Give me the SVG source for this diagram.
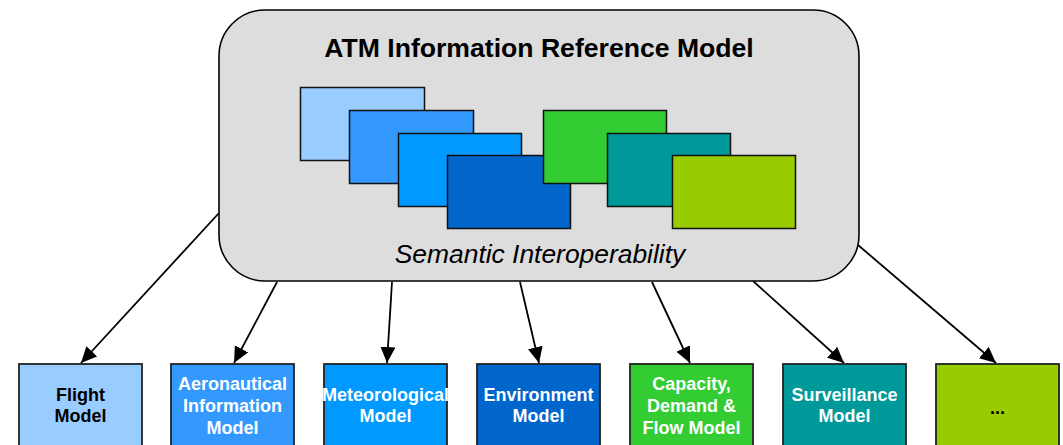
<svg xmlns="http://www.w3.org/2000/svg" width="1063" height="445" viewBox="0 0 1063 445">
<defs>
<style>
.main{fill:#DDDDDD;stroke:#000;stroke-width:1.6}
.card{stroke:#111;stroke-width:1.5}
.box{stroke:#222;stroke-width:1.8}
.lbl{font-family:"Liberation Sans",Arial,sans-serif;font-weight:bold;font-size:18px;text-anchor:middle;fill:#fff}
.dark{fill:#000}
.conn{stroke:#000;stroke-width:1.8;fill:none;marker-end:url(#ah)}
</style>
<marker id="ah" markerUnits="userSpaceOnUse" markerWidth="17" markerHeight="16" refX="16" refY="7.5" orient="auto">
<path d="M0,0 L16,7.5 L0,15 z" fill="#000"/>
</marker>
</defs>
<rect width="1063" height="445" fill="#fff"/>
<g id="connectors">
<line class="conn" x1="219" y1="213" x2="81" y2="363"/>
<line class="conn" x1="277" y1="282" x2="234" y2="363"/>
<line class="conn" x1="392" y1="282" x2="387" y2="363"/>
<line class="conn" x1="520" y1="282" x2="539" y2="363"/>
<line class="conn" x1="652" y1="282" x2="690" y2="363"/>
<line class="conn" x1="753" y1="281" x2="844" y2="363"/>
<line class="conn" x1="858" y1="245" x2="996" y2="363"/>
</g>
<g id="atm-model">
<rect class="main" x="219" y="10" width="640" height="271" rx="46" ry="46"/>
<text x="539" y="57" font-family="'Liberation Sans',Arial,sans-serif" font-weight="bold" font-size="26.6" text-anchor="middle" fill="#000">ATM Information Reference Model</text>
<rect class="card" x="300.5" y="87.5" width="124" height="73" fill="#99CCFF"/>
<rect class="card" x="349.5" y="110.5" width="124" height="73" fill="#3399FF"/>
<rect class="card" x="398.5" y="133.5" width="123" height="73" fill="#0099FF"/>
<rect class="card" x="447.5" y="155.5" width="123" height="73" fill="#0066CC"/>
<rect class="card" x="543.5" y="110.5" width="123" height="73" fill="#33CC33"/>
<rect class="card" x="607.5" y="133.5" width="123" height="73" fill="#009999"/>
<rect class="card" x="672.5" y="155.5" width="123" height="73" fill="#99CC00"/>
<text x="540" y="263" font-family="'Liberation Sans',Arial,sans-serif" font-style="italic" font-size="26.4" text-anchor="middle" fill="#000">Semantic Interoperability</text>
</g>
<g id="flight-model">
<rect class="box" x="19" y="364" width="123" height="90" fill="#99CCFF"/>
<text class="lbl dark" x="80.5" y="401">Flight</text>
<text class="lbl dark" x="80.5" y="422">Model</text>
</g>
<g id="aeronautical-model">
<rect class="box" x="171" y="364" width="123" height="90" fill="#3399FF"/>
<text class="lbl" x="232.5" y="390">Aeronautical</text>
<text class="lbl" x="232.5" y="412">Information</text>
<text class="lbl" x="232.5" y="434">Model</text>
</g>
<g id="meteorological-model">
<rect class="box" x="324" y="364" width="123" height="90" fill="#0099FF"/>
<text class="lbl" x="385.5" y="401">Meteorological</text>
<text class="lbl" x="385.5" y="422">Model</text>
</g>
<g id="environment-model">
<rect class="box" x="477" y="364" width="123" height="90" fill="#0066CC"/>
<text class="lbl" x="538.5" y="401">Environment</text>
<text class="lbl" x="538.5" y="422">Model</text>
</g>
<g id="capacity-model">
<rect class="box" x="630" y="364" width="123" height="90" fill="#33CC33"/>
<text class="lbl" x="691.5" y="390">Capacity,</text>
<text class="lbl" x="691.5" y="412">Demand &amp;</text>
<text class="lbl" x="691.5" y="434">Flow Model</text>
</g>
<g id="surveillance-model">
<rect class="box" x="783" y="364" width="123" height="90" fill="#009999"/>
<text class="lbl" x="844.5" y="401">Surveillance</text>
<text class="lbl" x="844.5" y="422">Model</text>
</g>
<g id="other-model">
<rect class="box" x="936" y="364" width="123" height="90" fill="#99CC00"/>
<text class="lbl dark" x="997.5" y="414">...</text>
</g>
</svg>
